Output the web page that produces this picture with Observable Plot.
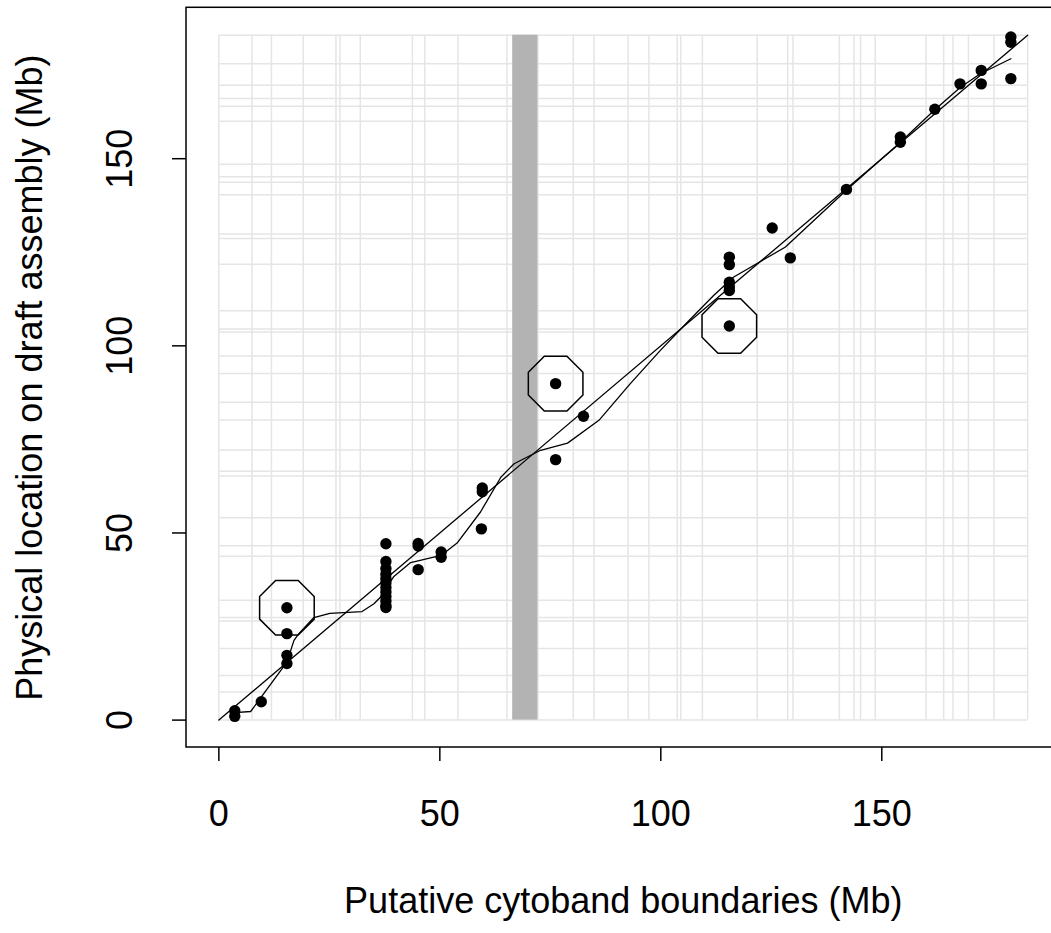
<!DOCTYPE html>
<html>
<head>
<meta charset="utf-8">
<script src="https://cdn.jsdelivr.net/npm/d3@7"></script>
<script src="https://cdn.jsdelivr.net/npm/@observablehq/plot@0.6"></script>
<style>
  html, body { margin: 0; padding: 0; background: white; overflow: hidden; }
</style>
</head>
<body>
<div id="chart"></div>
<script>
// ---- Data ----
// Putative cytoband boundaries (Mb) — used for both grids
const boundaries = [0, 7.5, 11.9, 19.1, 26.5, 27.4, 32.0, 43.8, 46.6, 54.1, 65.2, 66.5, 72.2,
  80.2, 84.9, 92.6, 97.3, 103.7, 104.5, 109.4, 121.8, 128.7, 129.9, 140.4, 143.7, 145.2,
  148.5, 160.0, 164.0, 166.1, 169.6, 175.4, 183.0];

// Centromere band (grey)
const bandStart = 66.5;
const bandEnd = 72.2;

// Marker points: x = cytoband position, y = physical position
const pointX = [3.6, 3.6, 9.6, 15.4, 15.4, 15.4, 15.4,
  37.8, 37.8, 37.8, 37.8, 37.8, 37.8, 37.8, 37.8, 37.8, 37.8, 37.8, 37.8,
  45.1, 45.1, 45.1, 50.3, 50.3, 59.6, 59.6, 59.4,
  76.2, 76.2, 82.5,
  115.5, 115.5, 115.5, 115.5, 115.5, 115.5,
  125.2, 129.3, 142.0, 154.2, 154.2, 162.0, 167.7, 172.5, 172.5, 179.2, 179.2, 179.2];
const pointY = [2.5, 1.0, 4.9, 30.0, 23.1, 17.3, 15.1,
  47.1, 42.4, 40.5, 39.0, 37.8, 36.6, 35.4, 34.2, 33.0, 31.8, 30.6, 30.1,
  47.2, 46.5, 40.2, 44.9, 43.5, 62.0, 61.0, 51.1,
  89.9, 69.6, 81.2,
  123.7, 121.7, 117.0, 115.8, 114.8, 105.3,
  131.5, 123.5, 141.8, 155.8, 154.4, 163.2, 170.0, 173.6, 170.0, 182.5, 181.1, 171.4];

// Outlier points (circled)
const outlierX = [15.4, 76.2, 115.5];
const outlierY = [30.0, 89.9, 105.3];

// Straight reference line
const diagX = [0, 183];
const diagY = [0, 183];

// Smoothed (lowess-like) curve
const smoothX = [3.6, 7.2, 15.4, 17.0, 18.1, 21.5, 25.1, 32.4, 35.1, 36.6, 39.6, 43.4, 50.3,
  53.9, 59.2, 63.8, 66.8, 72.8, 78.9, 86.0, 93.1, 99.9, 106.0, 112.0, 116.5, 128.2, 141.9,
  154.2, 161.8, 167.8, 172.3, 179.2];
const smoothY = [2.0, 2.3, 15.5, 21.3, 23.1, 27.4, 28.5, 29.0, 31.1, 32.9, 38.4, 42.1, 44.0,
  47.3, 55.6, 64.9, 68.5, 72.1, 74.0, 80.1, 89.9, 98.8, 106.3, 113.5, 118.4, 126.4, 141.5,
  154.4, 162.9, 169.1, 172.7, 176.7];

// Axis ticks and titles
const xTicks = [0, 50, 100, 150];
const yTicks = [0, 50, 100, 150];
const xTitle = "Putative cytoband boundaries (Mb)";
const yTitle = "Physical location on draft assembly (Mb)";

// ---- Build ----
const points = pointX.map((x, i) => ({x, y: pointY[i]}));
const outliers = outlierX.map((x, i) => ({x, y: outlierY[i]}));
const diag = diagX.map((x, i) => ({x, y: diagY[i]}));
const smooth = smoothX.map((x, i) => ({x, y: smoothY[i]}));

const gMin = d3.min(boundaries), gMax = d3.max(boundaries);
// R-style 4% axis extension
const pad = (gMax - gMin) * 0.04;
const lo = gMin - pad, hi = gMax + pad;
const mid = (lo + hi) / 2;

const octagon = {
  draw(context, size) {
    const ri = Math.sqrt(size / Math.PI);
    const R = ri / Math.cos(Math.PI / 8);
    for (let k = 0; k < 8; ++k) {
      const a = Math.PI / 8 + k * Math.PI / 4;
      const px = R * Math.cos(a), py = R * Math.sin(a);
      if (k === 0) context.moveTo(px, py); else context.lineTo(px, py);
    }
    context.closePath();
  }
};

const chart = Plot.plot({
  width: 1051,
  height: 933,
  marginLeft: 186,
  marginRight: 0,
  marginTop: 7,
  marginBottom: 186,
  style: {fontFamily: "'Liberation Sans', Arial, sans-serif", fontSize: "36px", overflow: "hidden", background: "white"},
  x: {domain: [lo, hi], range: [186, 1059.5], axis: null},
  y: {domain: [lo, hi], range: [747, 7.3], axis: null},
  marks: [
    Plot.ruleX(boundaries, {x: d => d, y1: gMin, y2: gMax, stroke: "#e5e5e5", strokeWidth: 1.5}),
    Plot.ruleY(boundaries, {y: d => d, x1: gMin, x2: gMax, stroke: "#e5e5e5", strokeWidth: 1.5}),
    Plot.rect([{}], {x1: bandStart, x2: bandEnd, y1: gMin, y2: gMax, fill: "#b3b3b3"}),
    Plot.line(diag, {x: "x", y: "y", stroke: "black", strokeWidth: 1.3}),
    Plot.line(smooth, {x: "x", y: "y", stroke: "black", strokeWidth: 1.3}),
    Plot.dot(points, {x: "x", y: "y", r: 5.7, fill: "black", stroke: null}),
    Plot.dot(outliers, {x: "x", y: "y", r: 27.3, symbol: octagon, fill: "none", stroke: "black", strokeWidth: 1.5}),
    Plot.rect([{}], {x1: lo, x2: hi, y1: lo, y2: hi, fill: "none", stroke: "black", strokeWidth: 1.5}),
    Plot.axisX(xTicks, {anchor: "bottom", tickSize: 14, tickFormat: () => "", label: null, strokeWidth: 1.5}),
    Plot.axisY(yTicks, {anchor: "left", tickSize: 14, tickFormat: () => "", label: null, strokeWidth: 1.5}),
    Plot.text(xTicks, {x: d => d, text: d => String(d), frameAnchor: "bottom", dy: 67, fontSize: 36, lineAnchor: "middle", fill: "black"}),
    Plot.text(yTicks, {y: d => d, text: d => String(d), frameAnchor: "left", dx: -66, rotate: -90, fontSize: 36, lineAnchor: "middle", textAnchor: "middle", fill: "black"}),
    Plot.text([xTitle], {x: mid, text: d => d, frameAnchor: "bottom", dy: 154, fontSize: 36, lineAnchor: "middle", fill: "black"}),
    Plot.text([yTitle], {y: mid, text: d => d, frameAnchor: "left", dx: -156, rotate: -90, fontSize: 36, lineAnchor: "middle", textAnchor: "middle", fill: "black"})
  ]
});
document.getElementById("chart").appendChild(chart);
</script>
</body>
</html>
